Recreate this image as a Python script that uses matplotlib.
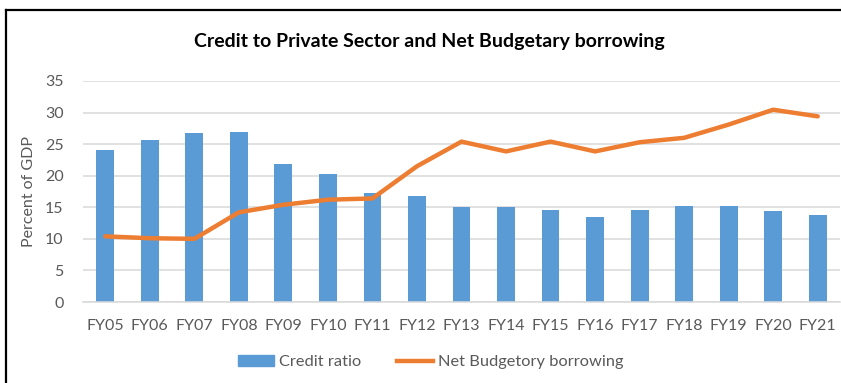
import matplotlib
matplotlib.use("Agg")
import matplotlib.pyplot as plt
from matplotlib.lines import Line2D
from matplotlib.patches import Patch
import numpy as np

years = ["FY05", "FY06", "FY07", "FY08", "FY09", "FY10", "FY11", "FY12", "FY13",
         "FY14", "FY15", "FY16", "FY17", "FY18", "FY19", "FY20", "FY21"]
credit_ratio = [24.0, 25.7, 26.8, 27.0, 21.9, 20.2, 17.2, 16.8, 15.0,
                15.0, 14.6, 13.5, 14.6, 15.15, 15.15, 14.4, 13.7]
net_borrowing = [10.4, 10.1, 10.0, 14.2, 15.4, 16.2, 16.4, 21.5, 25.4,
                 23.85, 25.4, 23.85, 25.3, 26.0, 28.1, 30.45, 29.4]
y_ticks = [0, 5, 10, 15, 20, 25, 30, 35]

BLUE = "#5B9BD5"
ORANGE = "#ED7D31"
GRAY = "#595959"
GRID = "#D9D9D9"

plt.rcParams["font.family"] = ["Lato", "DejaVu Sans"]

W, H = 841, 383
fig = plt.figure(figsize=(W / 100, H / 100), dpi=100)

ax = fig.add_axes([83 / W, (H - 302) / H, (840 - 83) / W, (302 - 81) / H])
x = np.arange(len(years))
ax.bar(x, credit_ratio, width=0.4, color=BLUE, zorder=2)
ax.plot(x, net_borrowing, color=ORANGE, linewidth=3.2, zorder=3,
        solid_joinstyle="round", solid_capstyle="round")

ax.set_xlim(-0.5, len(years) - 0.5)
ax.set_ylim(0, 35)
ax.set_yticks(y_ticks)
ax.set_xticks(x)
ax.set_xticklabels(years)
ax.tick_params(axis="both", length=0, labelsize=11.5, colors=GRAY)
ax.tick_params(axis="x", pad=12)
ax.tick_params(axis="y", pad=14)
ax.grid(axis="y", color=GRID, linewidth=1.1, zorder=0)
ax.set_axisbelow(True)
for side in ("top", "right", "left"):
    ax.spines[side].set_visible(False)
ax.spines["bottom"].set_color(GRID)
ax.spines["bottom"].set_linewidth(1.1)
ax.set_ylabel("Percent of GDP", color=GRAY, fontsize=11.5, labelpad=6)

fig.text(429 / W, 1 - 41 / H, "Credit to Private Sector and Net Budgetary borrowing",
         ha="center", va="center", fontsize=14, fontweight="bold", color="black")

handles = [Patch(facecolor=BLUE, edgecolor=BLUE),
           Line2D([0], [0], color=ORANGE, linewidth=3.2)]
fig.legend(handles, ["Credit ratio", "Net Budgetory borrowing"],
           loc="center", bbox_to_anchor=(431 / W, 1 - 362 / H), ncol=2,
           frameon=False, fontsize=11.8, labelcolor=GRAY,
           handlelength=2.2, handletextpad=0.3, columnspacing=2.2)

# outer chart frame
fig.add_artist(Line2D([6 / W, 6 / W], [0, 1 - 10 / H], color="black",
                      linewidth=1.6, transform=fig.transFigure))
fig.add_artist(Line2D([6 / W, 1], [1 - 10 / H, 1 - 10 / H], color="black",
                      linewidth=1.6, transform=fig.transFigure))

fig.savefig("out.png", dpi=100, facecolor="white")
